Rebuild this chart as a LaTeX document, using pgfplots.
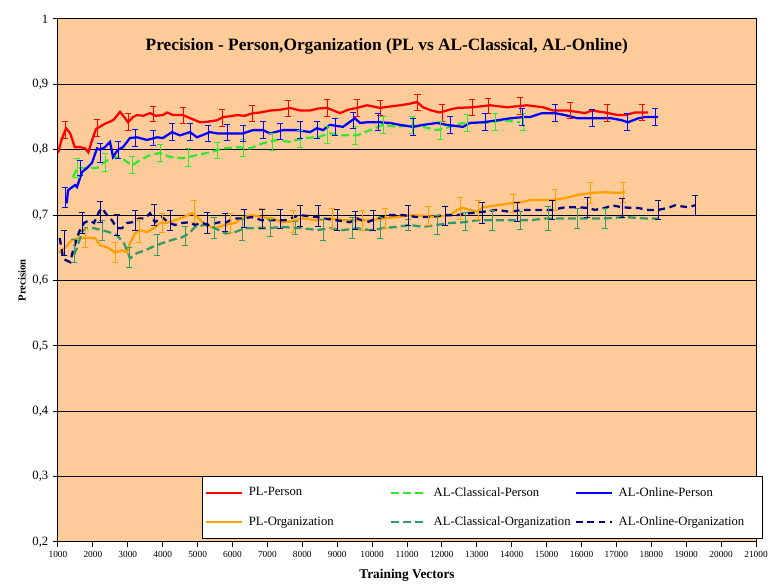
\documentclass[border=0pt]{standalone}
\usepackage{fontspec}
\setmainfont{Liberation Serif}
\usepackage{pgfplots}
\pgfplotsset{compat=1.18}
\definecolor{peach}{RGB}{255,204,153}
\definecolor{plred}{RGB}{255,0,0}
\definecolor{lgreen}{RGB}{51,230,51}
\definecolor{olblue}{RGB}{0,0,255}
\definecolor{plorange}{RGB}{255,160,0}
\definecolor{seagreen}{RGB}{51,153,102}
\definecolor{navyb}{RGB}{0,0,128}
\begin{document}
\begin{tikzpicture}
\path[use as bounding box] (-43.5pt,-32.25pt) rectangle (535.5pt,406.5pt);
\begin{axis}[
  scale only axis, width=523.5pt, height=392.25pt,
  xmin=1000, xmax=21000, ymin=0.2, ymax=1,
  xtick={1000,2000,...,21000}, ytick={0.2,0.3,...,1.0},
  scaled x ticks=false,
  axis background/.style={fill=peach},
  axis line style={black, line width=0.75pt},
  ymajorgrids, grid style={black, line width=0.75pt},
  tick align=outside, tick pos=left, major tick length=3.75pt,
  tick style={black, line width=0.75pt},
  /pgf/number format/assume math mode=true,
  xticklabel style={font=\fontsize{7}{8}\selectfont, /pgf/number format/1000 sep={}},
  yticklabel style={font=\fontsize{9.5}{11}\selectfont, /pgf/number format/.cd, fixed, precision=1, use comma},
  xlabel={Training Vectors}, ylabel={Precision},
  xlabel style={font=\fontsize{10}{12}\selectfont\bfseries, at={(axis description cs:0.5,-0.063)}, anchor=center},
  ylabel style={font=\fontsize{8}{10}\selectfont\bfseries, at={(axis description cs:-0.0516,0.5)}, anchor=center},
  legend columns=3, legend cell align=left,
  legend image code/.code={\draw[#1] (0pt,0pt) -- (27pt,0pt);},
  legend style={at={(axis description cs:0.2063,0.006)}, anchor=south west, draw=black, fill=white, line width=0.75pt,
    inner xsep=2pt, inner ysep=6pt, row sep=10pt,
    font=\fontsize{9.5}{11}\selectfont,
    nodes={text width=104pt, inner sep=2pt},
    /tikz/every odd column/.append style={column sep=2pt}},
  every axis plot/.append style={line width=1.7pt},
  ebar/.style={forget plot, draw=none, mark=none,
    error bars/.cd, y dir=both, y explicit,
    error bar style={draw=#1, line width=0.6pt, solid},
    error mark options={draw=#1, rotate=90, mark size=2.6pt, line width=0.6pt, solid}},
]
% PL-Person
\addplot[plred] coordinates {(1000,0.795) (1100,0.815) (1230,0.833) (1350,0.825) (1480,0.804) (1650,0.804) (1780,0.802) (1870,0.796) (1960,0.812) (2090,0.832) (2200,0.835) (2350,0.840) (2490,0.843) (2600,0.846) (2777,0.858) (2900,0.850) (3006,0.842) (3150,0.850) (3264,0.853) (3450,0.852) (3636,0.856) (3800,0.852) (4009,0.853) (4123,0.857) (4300,0.853) (4582,0.853) (4800,0.848) (5069,0.842) (5300,0.843) (5556,0.845) (5728,0.850) (5900,0.851) (6129,0.853) (6350,0.852) (6587,0.856) (6800,0.857) (7074,0.860) (7350,0.861) (7648,0.864) (7934,0.860) (8221,0.860) (8450,0.863) (8708,0.864) (9080,0.856) (9300,0.861) (9567,0.864) (9854,0.868) (10226,0.864) (10500,0.866) (10799,0.868) (11050,0.870) (11287,0.873) (11458,0.865) (11700,0.860) (11946,0.857) (12200,0.861) (12433,0.864) (12891,0.865) (13378,0.868) (13865,0.865) (14438,0.868) (14897,0.865) (15183,0.860) (15613,0.860) (16100,0.856) (16301,0.860) (16673,0.857) (17046,0.853) (17246,0.853) (17533,0.857) (17900,0.857)};
\addlegendentry{PL-Person}
% AL-Classical-Person
\addplot[lgreen, dash pattern=on 6pt off 3pt] coordinates {(1430,0.758) (1544,0.772) (1831,0.772) (2117,0.772) (2289,0.780) (2433,0.784) (2633,0.789) (2834,0.787) (3120,0.776) (3350,0.784) (3636,0.792) (3923,0.795) (4209,0.789) (4582,0.787) (4983,0.792) (5355,0.796) (5728,0.802) (6129,0.804) (6501,0.802) (6874,0.810) (7275,0.815) (7648,0.812) (8020,0.818) (8421,0.819) (8794,0.825) (9166,0.822) (9567,0.822) (9940,0.830) (10312,0.838) (10713,0.835) (11086,0.838) (11458,0.835) (11860,0.830) (12232,0.835) (12605,0.841) (13006,0.841) (13378,0.842) (13751,0.845) (14238,0.842)};
\addlegendentry{AL-Classical-Person}
% AL-Online-Person
\addplot[olblue] coordinates {(1250,0.718) (1287,0.738) (1487,0.746) (1544,0.743) (1688,0.766) (1831,0.772) (1974,0.780) (2117,0.802) (2203,0.800) (2347,0.804) (2490,0.812) (2576,0.789) (2719,0.800) (2862,0.804) (3063,0.818) (3264,0.819) (3550,0.815) (3837,0.819) (4009,0.818) (4266,0.827) (4496,0.822) (4782,0.827) (4983,0.819) (5355,0.827) (5556,0.825) (5842,0.825) (6301,0.825) (6587,0.830) (6874,0.830) (7074,0.825) (7447,0.830) (7848,0.830) (8221,0.827) (8421,0.833) (8593,0.830) (8794,0.838) (9166,0.835) (9424,0.845) (9510,0.848) (9653,0.841) (9854,0.842) (10226,0.842) (10513,0.841) (10799,0.838) (11172,0.835) (11458,0.838) (11860,0.841) (12146,0.838) (12605,0.835) (12805,0.841) (13178,0.842) (13579,0.845) (13951,0.848) (14324,0.850) (14524,0.850) (14868,0.856) (15241,0.856) (15527,0.853) (15900,0.848) (16301,0.848) (16587,0.848) (16874,0.848) (17160,0.845) (17332,0.842) (17619,0.848) (17819,0.850) (18192,0.850)};
\addlegendentry{AL-Online-Person}
% PL-Organization
\addplot[plorange] coordinates {(1029,0.642) (1200,0.650) (1401,0.662) (1602,0.665) (1888,0.665) (2060,0.665) (2203,0.654) (2404,0.651) (2633,0.643) (2834,0.646) (2977,0.643) (3063,0.657) (3206,0.672) (3350,0.677) (3550,0.674) (3751,0.680) (3923,0.688) (4123,0.688) (4352,0.692) (4610,0.697) (4840,0.703) (5040,0.695) (5212,0.685) (5499,0.680) (5785,0.685) (6072,0.688) (6330,0.697) (6559,0.700) (6845,0.697) (7132,0.695) (7418,0.689) (7648,0.690) (8020,0.695) (8421,0.692) (8794,0.695) (9166,0.692) (9567,0.692) (9940,0.692) (10312,0.695) (10713,0.697) (11086,0.700) (11458,0.699) (11860,0.697) (12232,0.700) (12433,0.708) (12605,0.711) (13006,0.705) (13178,0.712) (13579,0.715) (13951,0.718) (14324,0.720) (14524,0.723) (14754,0.723) (15155,0.723) (15527,0.726) (15900,0.731) (16301,0.734) (16673,0.735) (17046,0.734) (17246,0.735)};
\addlegendentry{PL-Organization}
% AL-Classical-Organization
\addplot[seagreen, dash pattern=on 6pt off 3pt] coordinates {(1458,0.639) (1544,0.650) (1688,0.674) (1774,0.680) (2031,0.680) (2261,0.677) (2461,0.674) (2691,0.669) (2891,0.657) (3063,0.634) (3264,0.642) (3493,0.646) (3693,0.651) (3980,0.657) (4266,0.662) (4553,0.666) (4754,0.672) (4926,0.682) (5212,0.685) (5499,0.680) (5785,0.672) (6072,0.674) (6358,0.680) (6645,0.680) (7017,0.680) (7418,0.682) (7648,0.681) (8020,0.680) (8421,0.677) (8794,0.680) (9166,0.677) (9567,0.680) (9940,0.677) (10312,0.680) (10713,0.682) (11086,0.685) (11458,0.682) (11860,0.685) (12232,0.688) (12605,0.689) (13006,0.692) (13378,0.692) (14524,0.692) (14954,0.695) (15527,0.695) (16100,0.695) (16673,0.695) (17246,0.697) (17819,0.695) (18192,0.695)};
\addlegendentry{AL-Classical-Organization}
% AL-Online-Organization
\addplot[navyb, dash pattern=on 5pt off 3.5pt] coordinates {(1050,0.665) (1150,0.633) (1350,0.628) (1430,0.646) (1602,0.674) (1745,0.688) (1888,0.692) (2031,0.688) (2174,0.705) (2261,0.711) (2404,0.700) (2547,0.692) (2691,0.680) (2834,0.680) (2977,0.688) (3120,0.689) (3321,0.695) (3493,0.695) (3636,0.703) (3780,0.689) (3980,0.697) (4181,0.688) (4352,0.685) (4553,0.688) (4754,0.689) (4926,0.685) (5126,0.688) (5327,0.685) (5613,0.689) (5785,0.688) (6044,0.695) (6272,0.695) (6559,0.697) (6845,0.692) (7132,0.692) (7504,0.692) (7648,0.695) (7934,0.700) (8421,0.697) (8593,0.695) (9000,0.692) (9367,0.689) (9567,0.695) (9854,0.689) (10140,0.695) (10513,0.700) (10885,0.700) (11287,0.697) (11659,0.697) (12032,0.700) (12433,0.700) (12805,0.703) (13178,0.705) (13579,0.708) (13951,0.705) (14324,0.708) (14754,0.708) (15155,0.708) (15527,0.712) (15900,0.712) (16186,0.711) (16387,0.708) (16673,0.711) (16874,0.715) (17160,0.712) (17446,0.711) (17619,0.711) (17905,0.708) (18192,0.708) (18479,0.711) (18679,0.715) (19052,0.712) (19250,0.715)};
\addlegendentry{AL-Online-Organization}
% error bars
\addplot[ebar=plred] table[row sep=\\, y error=e] {x y e\\ 1200 0.830 0.013\\ 2117 0.834 0.013\\ 3006 0.842 0.013\\ 3722 0.855 0.012\\ 4582 0.853 0.012\\ 5699 0.849 0.013\\ 6559 0.856 0.012\\ 7590 0.863 0.012\\ 8708 0.864 0.013\\ 9567 0.864 0.013\\ 10226 0.864 0.012\\ 11300 0.872 0.012\\ 12003 0.857 0.013\\ 12862 0.865 0.012\\ 13321 0.867 0.012\\ 14238 0.867 0.013\\ 15670 0.860 0.012\\ 16730 0.857 0.013\\ 17733 0.857 0.012\\};
\addplot[ebar=lgreen] table[row sep=\\, y error=e] {x y e\\ 1544 0.772 0.014\\ 2347 0.781 0.014\\ 3120 0.777 0.013\\ 3923 0.795 0.013\\ 4725 0.788 0.014\\ 5556 0.799 0.013\\ 6301 0.803 0.013\\ 7132 0.812 0.013\\ 7934 0.817 0.013\\ 8708 0.822 0.013\\ 9510 0.822 0.014\\ 10312 0.838 0.013\\ 11143 0.838 0.013\\ 11946 0.830 0.014\\ 12719 0.841 0.013\\ 13521 0.843 0.013\\ 14324 0.842 0.013\\};
\addplot[ebar=olblue] table[row sep=\\, y error=e] {x y e\\ 1200 0.727 0.015\\ 1630 0.772 0.012\\ 2203 0.795 0.015\\ 2719 0.800 0.013\\ 3206 0.818 0.013\\ 3722 0.818 0.012\\ 4266 0.827 0.013\\ 4782 0.827 0.013\\ 5298 0.825 0.013\\ 5842 0.827 0.012\\ 6301 0.825 0.012\\ 6874 0.830 0.013\\ 7361 0.828 0.012\\ 7934 0.830 0.013\\ 8421 0.830 0.013\\ 8937 0.835 0.013\\ 9453 0.845 0.012\\ 10169 0.842 0.013\\ 11172 0.835 0.013\\ 12232 0.838 0.013\\ 13235 0.842 0.013\\ 14295 0.850 0.013\\ 15241 0.856 0.013\\ 16301 0.848 0.013\\ 17303 0.843 0.013\\ 18106 0.850 0.013\\};
\addplot[ebar=plorange] table[row sep=\\, y error=e] {x y e\\ 1774 0.665 0.014\\ 2633 0.643 0.015\\ 3321 0.676 0.018\\ 3980 0.688 0.015\\ 4897 0.706 0.017\\ 5928 0.688 0.015\\ 6845 0.697 0.014\\ 7734 0.690 0.017\\ 8851 0.695 0.015\\ 9711 0.692 0.015\\ 10370 0.695 0.015\\ 11601 0.699 0.015\\ 12519 0.710 0.017\\ 13035 0.708 0.015\\ 14037 0.718 0.014\\ 15241 0.723 0.016\\ 16244 0.734 0.016\\ 17189 0.735 0.015\\};
\addplot[ebar=seagreen] table[row sep=\\, y error=e] {x y e\\ 1458 0.645 0.018\\ 2261 0.677 0.015\\ 3034 0.635 0.015\\ 3837 0.655 0.016\\ 4639 0.668 0.015\\ 5470 0.680 0.016\\ 6272 0.678 0.016\\ 7074 0.680 0.013\\ 7791 0.681 0.010\\ 8593 0.678 0.016\\ 9424 0.680 0.016\\ 10226 0.680 0.016\\ 11029 0.685 0.008\\ 11860 0.685 0.015\\ 12662 0.690 0.014\\ 13436 0.692 0.015\\ 14238 0.692 0.014\\ 15040 0.695 0.018\\ 15871 0.695 0.015\\ 16673 0.695 0.015\\};
\addplot[ebar=navyb] table[row sep=\\, y error=e] {x y e\\ 1172 0.658 0.019\\ 1688 0.688 0.016\\ 2203 0.705 0.016\\ 2691 0.685 0.016\\ 3206 0.692 0.015\\ 3751 0.700 0.016\\ 4209 0.692 0.015\\ 5269 0.688 0.016\\ 5785 0.689 0.014\\ 6330 0.695 0.014\\ 6845 0.694 0.015\\ 7361 0.694 0.015\\ 7934 0.699 0.016\\ 8450 0.699 0.016\\ 8994 0.692 0.016\\ 9510 0.692 0.014\\ 10026 0.692 0.015\\ 11029 0.700 0.015\\ 12089 0.699 0.015\\ 13149 0.704 0.016\\ 14152 0.705 0.015\\ 15155 0.708 0.015\\ 16158 0.712 0.015\\ 17160 0.711 0.015\\ 18192 0.708 0.015\\ 19252 0.715 0.015\\};
\node[anchor=base, font=\fontsize{13}{15}\selectfont\bfseries] at (axis description cs:0.471,0.9407) {Precision - Person,Organization (PL vs AL-Classical, AL-Online)};
\end{axis}
\end{tikzpicture}
\end{document}
